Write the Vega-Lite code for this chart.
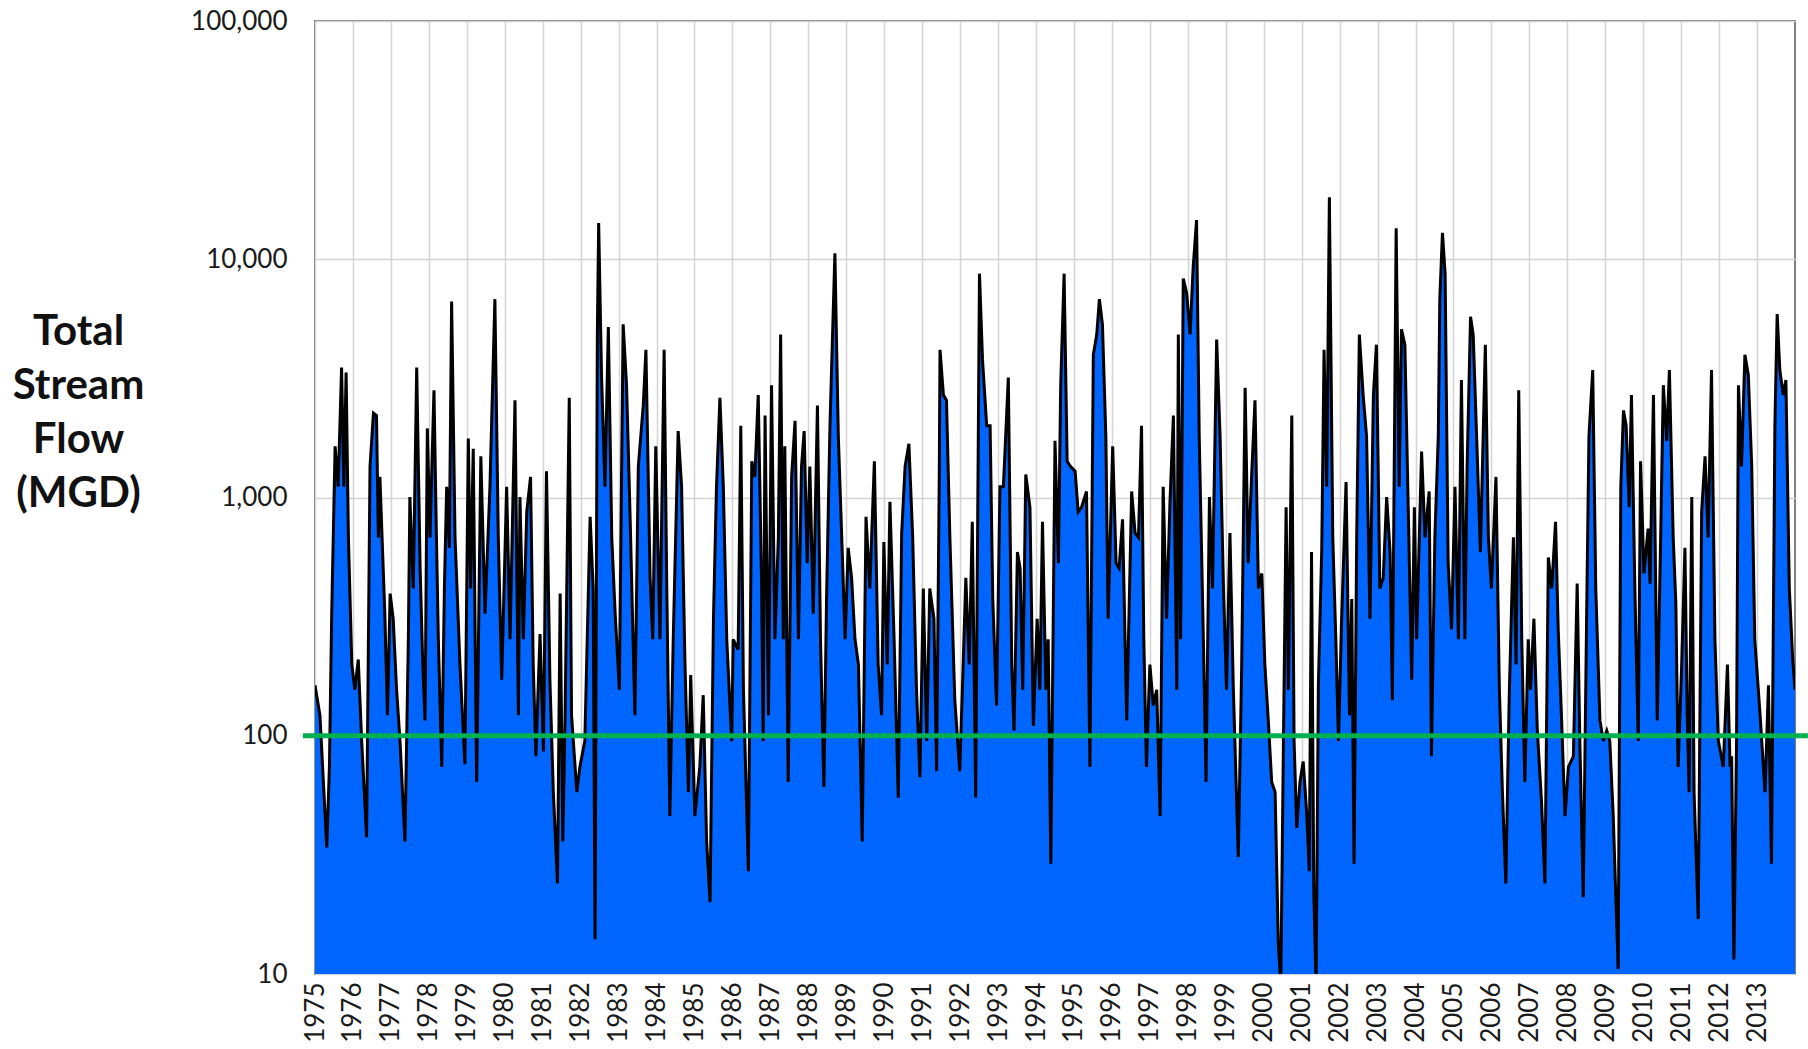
{
  "$schema": "https://vega.github.io/schema/vega-lite/v6.json",
  "width": 1480,
  "height": 953,
  "autosize": {"type": "none"},
  "padding": {"left": 315, "top": 21, "right": 13, "bottom": 75},
  "background": "white",
  "config": {"view": {"stroke": "#7f7f7f", "strokeWidth": 2}},
  "datasets": {
    "flow": [
{"t":1975.0,"v":163},{"t":1975.13,"v":122},{"t":1975.31,"v":34},{"t":1975.38,"v":74},{"t":1975.44,"v":325},{"t":1975.53,"v":1640},{"t":1975.61,"v":1110},{"t":1975.70,"v":3510},{"t":1975.76,"v":1110},{"t":1975.82,"v":3350},{"t":1975.88,"v":680},{"t":1975.97,"v":199},{"t":1976.05,"v":156},{"t":1976.14,"v":209},{"t":1976.23,"v":95},{"t":1976.36,"v":37.5},{"t":1976.45,"v":1350},{"t":1976.54,"v":2260},{"t":1976.62,"v":2210},{"t":1976.67,"v":680},{"t":1976.71,"v":1220},{"t":1976.84,"v":325},{"t":1976.91,"v":122},{"t":1976.98,"v":395},{"t":1977.06,"v":310},{"t":1977.15,"v":156},{"t":1977.24,"v":95},{"t":1977.37,"v":36},{"t":1977.46,"v":254},{"t":1977.50,"v":1005},{"t":1977.59,"v":415},{"t":1977.68,"v":3510},{"t":1977.77,"v":505},{"t":1977.84,"v":199},{"t":1977.90,"v":116},{"t":1977.96,"v":1950},{"t":1978.03,"v":680},{"t":1978.135,"v":2820},{"t":1978.20,"v":680},{"t":1978.25,"v":254},{"t":1978.34,"v":74},{"t":1978.41,"v":415},{"t":1978.47,"v":1110},{"t":1978.54,"v":615},{"t":1978.60,"v":6650},{"t":1978.69,"v":680},{"t":1978.82,"v":199},{"t":1978.95,"v":76},{"t":1979.04,"v":1770},{"t":1979.10,"v":415},{"t":1979.17,"v":1600},{"t":1979.26,"v":64},{"t":1979.37,"v":1490},{"t":1979.48,"v":325},{"t":1979.61,"v":1110},{"t":1979.74,"v":6800},{"t":1979.83,"v":680},{"t":1979.92,"v":172},{"t":1980.05,"v":1110},{"t":1980.14,"v":254},{"t":1980.27,"v":2560},{"t":1980.36,"v":122},
{"t":1980.40,"v":1005},{"t":1980.49,"v":254},{"t":1980.58,"v":870},{"t":1980.68,"v":1220},{"t":1980.75,"v":199},{"t":1980.82,"v":82},{"t":1980.93,"v":267},{"t":1981.02,"v":86},{"t":1981.10,"v":1290},{"t":1981.19,"v":172},{"t":1981.28,"v":58},{"t":1981.39,"v":24},{"t":1981.46,"v":395},{"t":1981.53,"v":36},{"t":1981.59,"v":122},{"t":1981.70,"v":2620},{"t":1981.76,"v":122},{"t":1981.90,"v":58},{"t":1981.98,"v":74},{"t":1982.11,"v":95},{"t":1982.25,"v":830},{"t":1982.33,"v":415},{"t":1982.38,"v":14},{"t":1982.44,"v":4830},{"t":1982.475,"v":14200},{"t":1982.55,"v":3270},{"t":1982.64,"v":1110},{"t":1982.73,"v":5200},{"t":1982.82,"v":680},{"t":1982.91,"v":325},{"t":1983.02,"v":156},{"t":1983.12,"v":5330},{"t":1983.21,"v":2960},{"t":1983.30,"v":870},{"t":1983.43,"v":122},{"t":1983.52,"v":1350},{"t":1983.65,"v":2430},{"t":1983.72,"v":4170},{"t":1983.83,"v":460},{"t":1983.90,"v":254},{"t":1983.98,"v":1640},{"t":1984.09,"v":254},{"t":1984.20,"v":4170},{"t":1984.27,"v":415},{"t":1984.35,"v":46},{"t":1984.44,"v":254},{"t":1984.57,"v":1900},{"t":1984.66,"v":1110},{"t":1984.75,"v":199},{"t":1984.84,"v":58},{"t":1984.90,"v":180},{"t":1985.01,"v":46},{"t":1985.14,"v":74},{"t":1985.23,"v":148},{"t":1985.32,"v":36},{"t":1985.41,"v":20},{"t":1985.50,"v":310},{"t":1985.58,"v":1110},{"t":1985.67,"v":2620},{"t":1985.76,"v":1110},{"t":1985.85,"v":254},
{"t":1985.98,"v":95},{"t":1986.02,"v":254},{"t":1986.15,"v":230},{"t":1986.22,"v":2000},{"t":1986.29,"v":156},{"t":1986.42,"v":27},{"t":1986.51,"v":1420},{"t":1986.59,"v":1220},{"t":1986.68,"v":2690},{"t":1986.77,"v":415},{"t":1986.81,"v":95},{"t":1986.86,"v":2210},{"t":1986.95,"v":122},{"t":1987.03,"v":2960},{"t":1987.12,"v":254},{"t":1987.21,"v":680},{"t":1987.27,"v":4830},{"t":1987.34,"v":254},{"t":1987.38,"v":1640},{"t":1987.47,"v":64},{"t":1987.56,"v":1220},{"t":1987.65,"v":2100},{"t":1987.74,"v":254},{"t":1987.82,"v":1350},{"t":1987.89,"v":1900},{"t":1987.97,"v":530},{"t":1988.04,"v":1350},{"t":1988.13,"v":325},{"t":1988.24,"v":2430},{"t":1988.32,"v":254},{"t":1988.41,"v":61},{"t":1988.48,"v":375},{"t":1988.57,"v":2000},{"t":1988.70,"v":10600},{"t":1988.79,"v":1810},{"t":1988.88,"v":680},{"t":1988.97,"v":254},{"t":1989.05,"v":615},{"t":1989.14,"v":460},{"t":1989.23,"v":254},{"t":1989.32,"v":199},{"t":1989.42,"v":36},{"t":1989.52,"v":830},{"t":1989.62,"v":415},{"t":1989.74,"v":1420},{"t":1989.84,"v":199},{"t":1989.93,"v":122},{"t":1989.99,"v":650},{"t":1990.08,"v":199},{"t":1990.15,"v":960},{"t":1990.26,"v":254},{"t":1990.37,"v":55},{"t":1990.46,"v":710},{"t":1990.55,"v":1350},{"t":1990.65,"v":1680},{"t":1990.75,"v":680},{"t":1990.85,"v":156},{"t":1990.94,"v":67},{"t":1991.03,"v":415},{"t":1991.12,"v":95},{"t":1991.20,"v":415},{"t":1991.31,"v":310},{"t":1991.38,"v":71},{"t":1991.45,"v":1220},
{"t":1991.47,"v":4170},{"t":1991.56,"v":2690},{"t":1991.64,"v":2560},{"t":1991.73,"v":680},{"t":1991.86,"v":141},{"t":1991.99,"v":71},{"t":1992.08,"v":199},{"t":1992.15,"v":460},{"t":1992.24,"v":199},{"t":1992.32,"v":790},{"t":1992.41,"v":55},{"t":1992.51,"v":8700},{"t":1992.59,"v":3780},{"t":1992.70,"v":2000},{"t":1992.79,"v":2000},{"t":1992.86,"v":375},{"t":1992.96,"v":134},{"t":1993.05,"v":1110},{"t":1993.14,"v":1110},{"t":1993.27,"v":3190},{"t":1993.36,"v":199},{"t":1993.42,"v":105},{"t":1993.51,"v":590},{"t":1993.58,"v":505},{"t":1993.65,"v":156},{"t":1993.73,"v":1250},{"t":1993.84,"v":910},{"t":1993.93,"v":110},{"t":1994.03,"v":310},{"t":1994.10,"v":156},{"t":1994.17,"v":790},{"t":1994.26,"v":156},{"t":1994.32,"v":254},{"t":1994.39,"v":29},{"t":1994.50,"v":1730},{"t":1994.59,"v":530},{"t":1994.65,"v":2960},{"t":1994.74,"v":8700},{"t":1994.82,"v":1420},{"t":1994.91,"v":1350},{"t":1995.03,"v":1290},{"t":1995.11,"v":870},{"t":1995.20,"v":910},{"t":1995.33,"v":1060},{"t":1995.42,"v":74},{"t":1995.51,"v":3970},{"t":1995.60,"v":4830},{"t":1995.67,"v":6800},{"t":1995.75,"v":5330},{"t":1995.84,"v":1810},{"t":1995.90,"v":310},{"t":1996.02,"v":1640},{"t":1996.11,"v":530},{"t":1996.19,"v":505},{"t":1996.28,"v":810},{"t":1996.39,"v":116},{"t":1996.52,"v":1060},{"t":1996.61,"v":710},{"t":1996.70,"v":680},{"t":1996.78,"v":2000},{"t":1996.84,"v":254},{"t":1996.91,"v":74},{"t":1997.00,"v":199},
{"t":1997.09,"v":134},{"t":1997.18,"v":156},{"t":1997.27,"v":46},{"t":1997.35,"v":1110},{"t":1997.44,"v":310},{"t":1997.53,"v":960},{"t":1997.62,"v":2210},{"t":1997.71,"v":156},{"t":1997.75,"v":4830},{"t":1997.81,"v":254},{"t":1997.88,"v":8300},{"t":1997.97,"v":7200},{"t":1998.06,"v":4830},{"t":1998.14,"v":9200},{"t":1998.23,"v":14600},{"t":1998.30,"v":1810},{"t":1998.41,"v":254},{"t":1998.48,"v":64},{"t":1998.57,"v":1005},{"t":1998.65,"v":415},{"t":1998.76,"v":4600},{"t":1998.85,"v":1810},{"t":1998.94,"v":415},{"t":1999.02,"v":156},{"t":1999.11,"v":710},{"t":1999.20,"v":156},{"t":1999.33,"v":31},{"t":1999.42,"v":199},{"t":1999.51,"v":2890},{"t":1999.59,"v":530},{"t":1999.68,"v":1220},{"t":1999.77,"v":2560},{"t":1999.86,"v":415},{"t":1999.95,"v":480},{"t":2000.03,"v":199},{"t":2000.12,"v":116},{"t":2000.21,"v":64},{"t":2000.30,"v":58},{"t":2000.385,"v":13.4},{"t":2000.45,"v":9},{"t":2000.52,"v":95},{"t":2000.59,"v":910},{"t":2000.65,"v":156},{"t":2000.74,"v":2210},{"t":2000.80,"v":95},{"t":2000.87,"v":41},{"t":2000.955,"v":64},{"t":2001.04,"v":78},{"t":2001.13,"v":48},{"t":2001.20,"v":27},{"t":2001.26,"v":590},{"t":2001.32,"v":22},{"t":2001.38,"v":9},{"t":2001.44,"v":163},{"t":2001.53,"v":615},{"t":2001.59,"v":4170},{"t":2001.66,"v":1110},{"t":2001.73,"v":18200},{"t":2001.82,"v":680},{"t":2001.90,"v":254},{"t":2001.97,"v":95},{"t":2002.05,"v":295},{"t":2002.17,"v":1160},{"t":2002.26,"v":122},{"t":2002.32,"v":375},{"t":2002.38,"v":29},{"t":2002.45,"v":680},{"t":2002.52,"v":4830},
{"t":2002.62,"v":2690},{"t":2002.71,"v":1810},{"t":2002.80,"v":310},{"t":2002.89,"v":2690},{"t":2002.97,"v":4380},{"t":2003.06,"v":415},{"t":2003.15,"v":460},{"t":2003.24,"v":1005},{"t":2003.33,"v":590},{"t":2003.39,"v":141},{"t":2003.49,"v":13500},{"t":2003.57,"v":1110},{"t":2003.63,"v":5080},{"t":2003.72,"v":4380},{"t":2003.81,"v":870},{"t":2003.90,"v":172},{"t":2003.97,"v":910},{"t":2004.03,"v":254},{"t":2004.10,"v":680},{"t":2004.16,"v":1560},{"t":2004.25,"v":680},{"t":2004.36,"v":1060},{"t":2004.42,"v":82},{"t":2004.51,"v":680},{"t":2004.60,"v":1810},{"t":2004.64,"v":6800},{"t":2004.71,"v":12900},{"t":2004.78,"v":8700},{"t":2004.86,"v":530},{"t":2004.95,"v":280},{"t":2005.04,"v":1110},{"t":2005.13,"v":254},{"t":2005.21,"v":3110},{"t":2005.30,"v":254},{"t":2005.36,"v":1350},{"t":2005.45,"v":5740},{"t":2005.52,"v":4830},{"t":2005.61,"v":1810},{"t":2005.71,"v":590},{"t":2005.84,"v":4380},{"t":2005.92,"v":680},{"t":2006.00,"v":415},{"t":2006.12,"v":1220},{"t":2006.21,"v":156},{"t":2006.29,"v":58},{"t":2006.38,"v":24},{"t":2006.47,"v":148},{"t":2006.58,"v":680},{"t":2006.65,"v":199},{"t":2006.72,"v":2820},{"t":2006.80,"v":254},{"t":2006.88,"v":64},{"t":2006.97,"v":254},{"t":2007.03,"v":156},{"t":2007.12,"v":310},{"t":2007.21,"v":105},{"t":2007.32,"v":53},{"t":2007.41,"v":24},{"t":2007.50,"v":560},{"t":2007.59,"v":415},{"t":2007.69,"v":790},{"t":2007.76,"v":280},{"t":2007.85,"v":116},{"t":2007.94,"v":46},{"t":2008.03,"v":74},
{"t":2008.16,"v":82},{"t":2008.26,"v":435},{"t":2008.33,"v":95},{"t":2008.42,"v":21},{"t":2008.51,"v":325},{"t":2008.57,"v":1810},{"t":2008.67,"v":3430},{"t":2008.75,"v":415},{"t":2008.86,"v":116},{"t":2008.95,"v":95},{"t":2009.04,"v":105},{"t":2009.12,"v":95},{"t":2009.21,"v":46},{"t":2009.34,"v":10.5},{"t":2009.41,"v":1110},{"t":2009.48,"v":2320},{"t":2009.55,"v":2000},{"t":2009.63,"v":910},{"t":2009.69,"v":2690},{"t":2009.78,"v":415},{"t":2009.87,"v":95},{"t":2009.93,"v":1420},{"t":2010.02,"v":480},{"t":2010.13,"v":740},{"t":2010.18,"v":435},{"t":2010.27,"v":2690},{"t":2010.37,"v":116},{"t":2010.46,"v":680},{"t":2010.53,"v":2960},{"t":2010.62,"v":1730},{"t":2010.69,"v":3430},{"t":2010.79,"v":680},{"t":2010.86,"v":360},{"t":2010.92,"v":74},{"t":2011.01,"v":189},{"t":2011.10,"v":615},{"t":2011.16,"v":122},{"t":2011.21,"v":58},{"t":2011.28,"v":1005},{"t":2011.34,"v":58},{"t":2011.45,"v":17},{"t":2011.54,"v":870},{"t":2011.63,"v":1490},{"t":2011.71,"v":680},{"t":2011.80,"v":3430},{"t":2011.89,"v":254},{"t":2011.98,"v":95},{"t":2012.11,"v":74},{"t":2012.22,"v":199},{"t":2012.29,"v":74},{"t":2012.33,"v":82},{"t":2012.39,"v":11.5},{"t":2012.46,"v":95},{"t":2012.51,"v":2960},{"t":2012.59,"v":1350},{"t":2012.68,"v":3970},{"t":2012.77,"v":3270},{"t":2012.86,"v":1350},{"t":2012.94,"v":254},{"t":2013.08,"v":122},{"t":2013.21,"v":58},{"t":2013.30,"v":163},{"t":2013.38,"v":29},{"t":2013.47,"v":2000},{"t":2013.53,"v":5890},{"t":2013.60,"v":3430},{"t":2013.69,"v":2690},{"t":2013.76,"v":3110},{"t":2013.85,"v":415},{"t":2013.94,"v":209},{"t":2014.00,"v":156}
    ],
    "threshold": [{"t": 1974.68, "end": 2014.34, "v": 100}]
  },
  "data": {"name": "flow"},
  "encoding": {
    "x": {
      "field": "t", "type": "quantitative",
      "scale": {"domain": [1975, 2014], "nice": false, "zero": false},
      "axis": {
        "values": [1975,1976,1977,1978,1979,1980,1981,1982,1983,1984,1985,1986,1987,1988,1989,1990,1991,1992,1993,1994,1995,1996,1997,1998,1999,2000,2001,2002,2003,2004,2005,2006,2007,2008,2009,2010,2011,2012,2013],
        "format": "d", "labelAngle": -90, "labelFont": "Lato", "labelFontSize": 26, "labelColor": "#1a1a1a",
        "labelPadding": 8, "labelOverlap": false, "labelFlush": false,
        "grid": true, "gridColor": "#d4d4d4", "gridWidth": 1.5, "domain": false, "ticks": false, "title": null
      }
    },
    "y": {
      "field": "v", "type": "quantitative",
      "scale": {"type": "log", "domain": [10, 100000], "nice": false},
      "axis": {
        "values": [10, 100, 1000, 10000, 100000], "format": ",",
        "labelFont": "Lato", "labelFontSize": 26, "labelColor": "#1a1a1a", "labelPadding": 28,
        "grid": true, "gridColor": "#d4d4d4", "gridWidth": 1.5, "domain": false, "ticks": false,
        "title": ["Total", "Stream", "Flow", "(MGD)"],
        "titleFont": "Lato", "titleFontSize": 42, "titleFontWeight": "bold", "titleColor": "#111111",
        "titleAngle": 0, "titleAlign": "center", "titleBaseline": "middle",
        "titleX": -237, "titleY": 310, "titleLineHeight": 54
      }
    }
  },
  "layer": [
    {
      "mark": {"type": "area", "color": "#0066ff", "clip": true},
      "encoding": {"y2": {"datum": 10}}
    },
    {
      "mark": {"type": "line", "color": "#000000", "strokeWidth": 3, "clip": true},
      "encoding": {}
    },
    {
      "data": {"name": "threshold"},
      "mark": {"type": "rule", "color": "#00b050", "strokeWidth": 5, "clip": false},
      "encoding": {
        "x2": {"field": "end"}
      }
    }
  ]
}
